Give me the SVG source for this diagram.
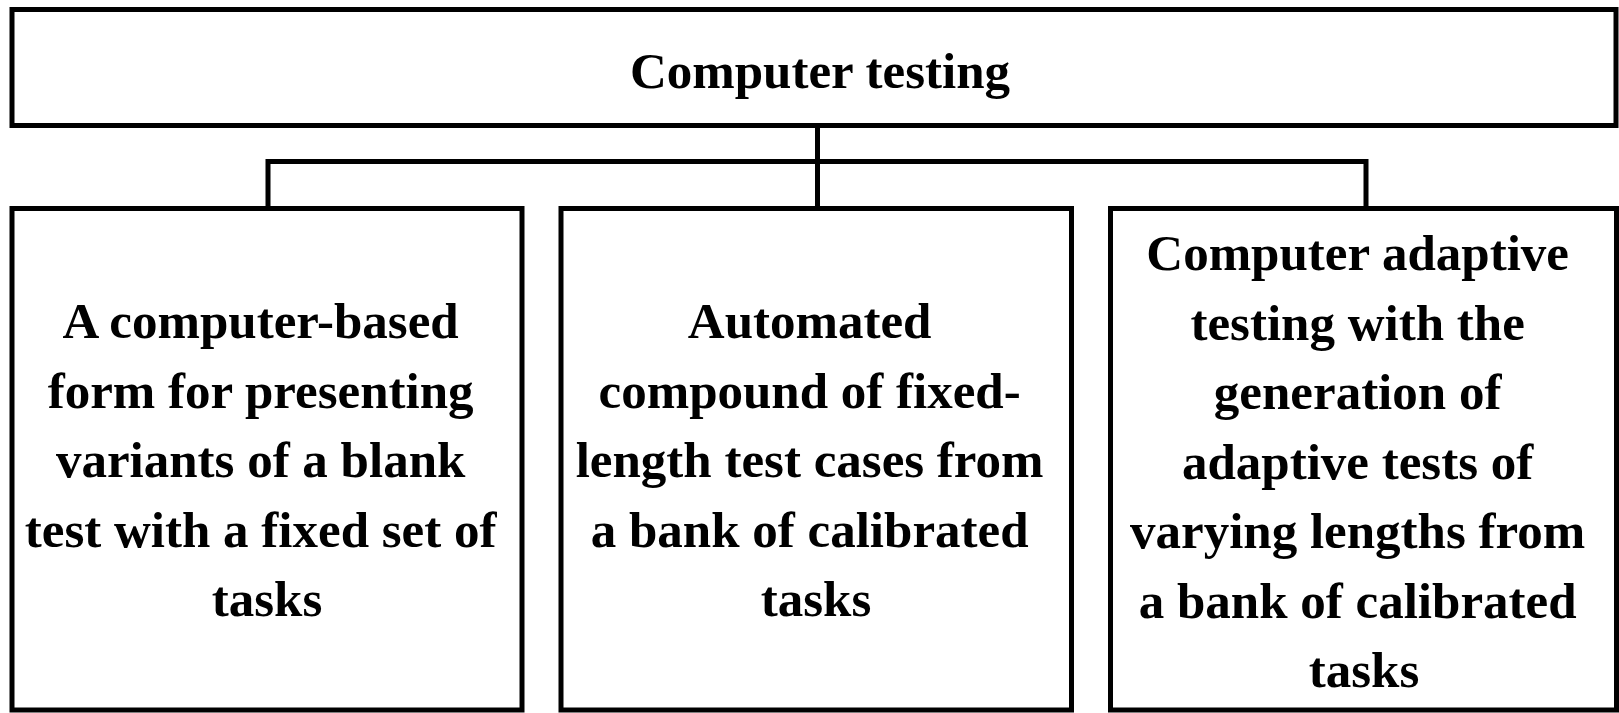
<svg xmlns="http://www.w3.org/2000/svg" width="1619" height="713" viewBox="0 0 1619 713">
  <style>
    .box { fill: #ffffff; stroke: #000000; stroke-width: 5; }
    .wire { fill: none; stroke: #000000; stroke-width: 5; stroke-linejoin: miter; }
    .label { font-family: "Liberation Serif", "Times New Roman", serif; font-weight: bold; font-size: 51px; fill: #000000; text-anchor: middle; }
  </style>
  <rect x="0" y="0" width="1619" height="713" fill="#ffffff"/>

  <!-- tree connectors -->
  <g id="connectors">
    <path class="wire" d="M817.5 125.5 V208.5"/>
    <path class="wire" d="M268 208.5 V161.5 H1366 V208.5"/>
  </g>

  <!-- root -->
  <g id="node-root">
    <rect class="box" x="12" y="9.5" width="1604" height="116"/>
    <text class="label" x="820" y="88">Computer testing</text>
  </g>

  <!-- children -->
  <g id="node-fixed-form">
    <rect class="box" x="12" y="208.5" width="510" height="501.5"/>
    <text class="label" x="267">
      <tspan x="267" y="338">A computer-based</tspan>
      <tspan x="267" y="407.5">form for presenting</tspan>
      <tspan x="267" y="477">variants of a blank</tspan>
      <tspan x="267" y="546.5">test with a fixed set of</tspan>
      <tspan x="267" y="616">tasks</tspan>
    </text>
  </g>

  <g id="node-automated">
    <rect class="box" x="561" y="208.5" width="510.5" height="501.5"/>
    <text class="label" x="816">
      <tspan x="816" y="338">Automated</tspan>
      <tspan x="816" y="407.5">compound of fixed-</tspan>
      <tspan x="816" y="477">length test cases from</tspan>
      <tspan x="816" y="546.5">a bank of calibrated</tspan>
      <tspan x="816" y="616">tasks</tspan>
    </text>
  </g>

  <g id="node-adaptive">
    <rect class="box" x="1110.5" y="208.5" width="506" height="501.5"/>
    <text class="label" x="1364">
      <tspan x="1364" y="270">Computer adaptive</tspan>
      <tspan x="1364" y="339.5">testing with the</tspan>
      <tspan x="1364" y="409">generation of</tspan>
      <tspan x="1364" y="478.5">adaptive tests of</tspan>
      <tspan x="1364" y="548">varying lengths from</tspan>
      <tspan x="1364" y="617.5">a bank of calibrated</tspan>
      <tspan x="1364" y="687">tasks</tspan>
    </text>
  </g>
</svg>
